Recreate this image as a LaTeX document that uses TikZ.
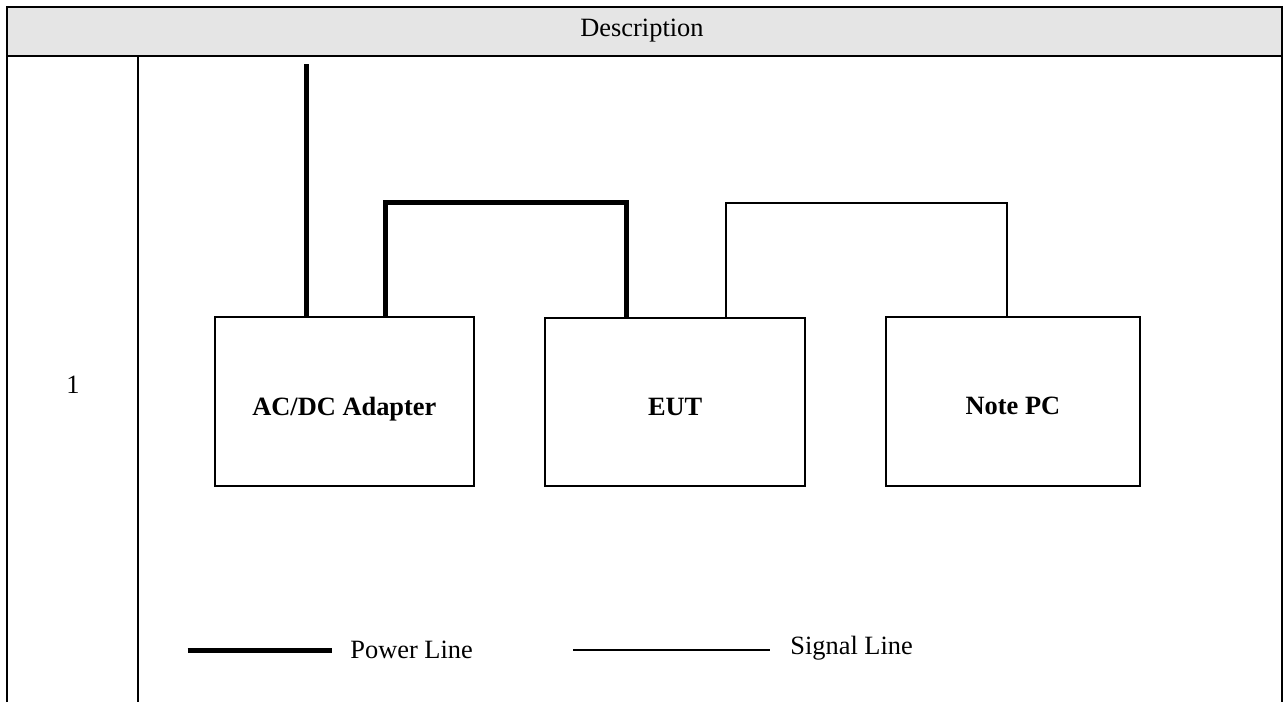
\documentclass[tikz,border=0pt]{standalone}
\usepackage{fontspec}
\setmainfont{Liberation Serif}
\begin{document}
\begin{tikzpicture}[x=0.5pt,y=-0.5pt,
  grid/.style={line width=1.1pt,black},
  unit/.style={draw,line width=0.85pt,inner sep=0pt},
  power/.style={line width=2.5pt,line join=miter},
  signal/.style={line width=1pt},
  lbl/.style={font=\fontsize{13.2}{15}\selectfont,inner sep=0pt},
  unitlbl/.style={font=\fontsize{13.2}{15}\selectfont\bfseries,inner sep=0pt,anchor=base}]
\useasboundingbox (0,0) rectangle (1284,702);

% table frame
\fill[gray!20] (6.7,6.7) rectangle (1282,55.7);
\draw[grid] (6.7,702) -- (6.7,6.7) -- (1282,6.7) -- (1282,702);
\draw[grid] (6.7,55.7) -- (1282,55.7);
\draw[grid] (137.7,55.7) -- (137.7,702);
\node[lbl] (head) at (642,31) {Description};
\node[lbl] (num) at (73,385) {1};

% equipment
\node[unit,minimum width=129.6pt,minimum height=84.5pt] (adapter) at (344.4,401.5) {};
\node[unit,minimum width=130.1pt,minimum height=84.2pt] (eut) at (675.2,401.9) {};
\node[unit,minimum width=126.8pt,minimum height=84.3pt] (pc) at (1012.9,401.4) {};
\node[unitlbl] (adapterlbl) at (344.4,415) {AC/DC Adapter};
\node[unitlbl] (eutlbl) at (675.2,415) {EUT};
\node[unitlbl] (pclbl) at (1012.9,414) {Note PC};

% cabling
\coordinate (mains) at (306.7,64);
\coordinate (pa) at (385.7,202.7);
\coordinate (pb) at (626,202.7);
\coordinate (sa) at (725.7,202.7);
\coordinate (sb) at (1007,202.7);
\draw[power] (mains) -- (mains |- adapter.north);
\draw[power] (pa |- adapter.north) -- (pa) -- (pb) -- (pb |- eut.north);
\draw[signal] (sa |- eut.north) -- (sa) -- (sb) -- (sb |- pc.north);

% legend
\coordinate (lp1) at (187.7,650.7);
\coordinate (lp2) at (331.7,650.7);
\coordinate (ls1) at (573.3,650.3);
\coordinate (ls2) at (770,650.3);
\draw[power] (lp1) -- (lp2);
\draw[signal] (ls1) -- (ls2);
\node[lbl,anchor=west] (powerlbl) at (350,650) {Power Line};
\node[lbl,anchor=west] (signallbl) at (790,648) {Signal Line};
\end{tikzpicture}
\end{document}
